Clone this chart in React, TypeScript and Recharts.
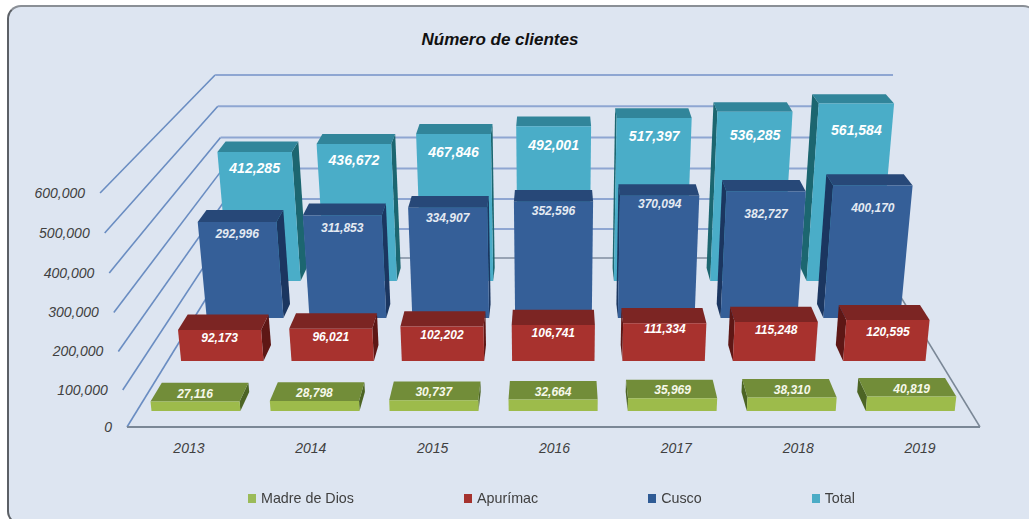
import { BarChart, Bar, XAxis, YAxis, CartesianGrid, Legend } from 'recharts'

// ── Data ─────────────────────────────────────────────────────────────────────
const years = ['2013', '2014', '2015', '2016', '2017', '2018', '2019']
const madreDeDios = [27116, 28798, 30737, 32664, 35969, 38310, 40819]
const apurimac = [92173, 96021, 102202, 106741, 111334, 115248, 120595]
const cusco = [292996, 311853, 334907, 352596, 370094, 382727, 400170]
const total = [412285, 436672, 467846, 492001, 517397, 536285, 561584]
const yTicks = [0, 100000, 200000, 300000, 400000, 500000, 600000]
const legendOrder = ['Madre de Dios', 'Apurímac', 'Cusco', 'Total']

const rows = years.map((year, i) => ({
  year,
  madreDeDios: madreDeDios[i],
  apurimac: apurimac[i],
  cusco: cusco[i],
  total: total[i],
}))

// ── Flat plot area, Recharts scales work in this plane ───────────────────────
const W = 1029
const H = 519
const PLOT_L = 127
const PLOT_R = 980
const PLOT_T = 193
const PLOT_B = 427
const FONT = '"Liberation Sans", Arial, sans-serif'

// the labels in the original are not placed evenly, small per-year corrections
const totalNudge: Record<string, number> = { '2015': 2, '2016': 3, '2017': 2, '2018': 7, '2019': 11 }
const cuscoNudge: Record<string, number> = { '2015': -2, '2016': -3, '2017': -4, '2018': 10, '2019': 10 }
const apurimacNudge: Record<string, number> = { '2017': -2, '2019': 4 }
const noNudge: Record<string, number> = {}

// ── Flat plane -> fake 3D floor/wall. t = 0 front of the floor, t = 1 back wall
function project(px: number, py: number, t: number) {
  const u = (px - PLOT_L) / (PLOT_R - PLOT_L)
  const v = Math.max(0, (PLOT_B - py) / (PLOT_B - PLOT_T))
  const h = (PLOT_B - PLOT_T) * Math.pow(v, 1.03) * (1 - 0.218 * t)
  const left = 127 + 104 * t
  const right = 980 - 103 * t
  const x0 = left + u * (right - left)
  return { x: 553 + (x0 - 553) * (1 + 0.00027 * h), y: 427 - 169 * t - h }
}

type P = { x: number; y: number }
const pts = (list: P[]) => list.map((p) => `${p.x.toFixed(1)},${p.y.toFixed(1)}`).join(' ')

// ── Bars ─────────────────────────────────────────────────────────────────────
function box3d(s: {
  key: 'madreDeDios' | 'apurimac' | 'cusco' | 'total'
  t: number
  depth: number
  front: string
  top: string
  side: string
  labelDy: number
  labelSize: number
  labelColor: string
  nudge: Record<string, number>
}) {
  return function Box(props: any) {
    const { x, y, width, height, payload } = props
    const bottom = y + height
    const t0 = s.t
    const t1 = s.t + s.depth
    const fbl = project(x, bottom, t0)
    const fbr = project(x + width, bottom, t0)
    const ftl = project(x, y, t0)
    const ftr = project(x + width, y, t0)
    const bbl = project(x, bottom, t1)
    const bbr = project(x + width, bottom, t1)
    const btl = project(x, y, t1)
    const btr = project(x + width, y, t1)
    const value: number = payload[s.key]
    return (
      <g>
        {btl.x < ftl.x && <polygon points={pts([ftl, btl, bbl, fbl])} fill={s.side} />}
        {btr.x > ftr.x && <polygon points={pts([ftr, btr, bbr, fbr])} fill={s.side} />}
        <polygon points={pts([ftl, btl, btr, ftr])} fill={s.top} />
        <polygon points={pts([ftl, ftr, fbr, fbl])} fill={s.front} />
        <text
          x={(ftl.x + ftr.x) / 2}
          y={ftl.y + s.labelDy + (s.nudge[payload.year] ?? 0)}
          textAnchor="middle"
          dominantBaseline="middle"
          fontFamily={FONT}
          fontStyle="italic"
          fontWeight={700}
          fontSize={s.labelSize}
          fill={s.labelColor}
        >
          {value.toLocaleString('en-US')}
        </text>
      </g>
    )
  }
}

const TotalBox = box3d({
  key: 'total', t: 0.864, depth: 0.077,
  front: '#4aadc8', top: '#31859a', side: '#1c6670',
  labelDy: 17, labelSize: 14, labelColor: '#ffffff', nudge: totalNudge,
})
const CuscoBox = box3d({
  key: 'cusco', t: 0.645, depth: 0.083,
  front: '#355f98', top: '#274878', side: '#1b3660',
  labelDy: 13, labelSize: 12, labelColor: '#e4eaf2', nudge: cuscoNudge,
})
const ApurimacBox = box3d({
  key: 'apurimac', t: 0.39, depth: 0.095,
  front: '#a8322e', top: '#7c2523', side: '#5e1715',
  labelDy: 9, labelSize: 12, labelColor: '#ffffff', nudge: apurimacNudge,
})
const MadreBox = box3d({
  key: 'madreDeDios', t: 0.095, depth: 0.112,
  front: '#9dbb4b', top: '#728d39', side: '#4c6424',
  labelDy: -7, labelSize: 12, labelColor: '#f6f8ea', nudge: noNudge,
})

// ── Wall lines: the gridline goes along the left wall, then along the back ───
function WallLine(props: any) {
  const { y1 } = props
  const a = project(PLOT_L, y1, 0)
  const b = project(PLOT_L, y1, 1)
  const c = project(PLOT_R, y1, 1)
  const isFloor = Math.abs(y1 - PLOT_B) < 1
  const e = project(PLOT_R, y1, 0)
  return (
    <g key={`wall-${y1}`}>
      <line x1={a.x} y1={a.y} x2={b.x} y2={b.y} stroke="#6a8dc2" strokeWidth={1.6} />
      <line x1={b.x} y1={b.y} x2={c.x} y2={c.y} stroke={isFloor ? '#97a3b4' : '#8ea6d2'} strokeWidth={2} />
      {isFloor && (
        <>
          <line x1={a.x} y1={a.y} x2={e.x} y2={e.y} stroke="#7a8796" strokeWidth={1.8} />
          <line x1={e.x} y1={e.y} x2={c.x} y2={c.y} stroke="#7a8796" strokeWidth={1.5} />
        </>
      )}
    </g>
  )
}

// ── Axis ticks ───────────────────────────────────────────────────────────────
function YTick(props: any) {
  const { y, payload } = props
  const p = project(PLOT_L, y, 0)
  return (
    <text
      x={p.x - 15}
      y={p.y + 1}
      textAnchor="end"
      dominantBaseline="middle"
      fontFamily={FONT}
      fontStyle="italic"
      fontSize={14}
      fill="#404040"
    >
      {payload.value.toLocaleString('en-US')}
    </text>
  )
}

function XTick(props: any) {
  const { x, payload } = props
  return (
    <text
      x={x + 1}
      y={449}
      textAnchor="middle"
      dominantBaseline="middle"
      fontFamily={FONT}
      fontStyle="italic"
      fontSize={14}
      fill="#404040"
    >
      {payload.value}
    </text>
  )
}

// ── Legend, in the original reading order ────────────────────────────────────
function ChartLegend({ payload }: any) {
  const items = legendOrder
    .map((name) => (payload ?? []).find((p: any) => p.value === name))
    .filter(Boolean)
  return (
    <div style={{ display: 'flex', gap: 110, paddingLeft: 248, fontFamily: FONT, fontSize: 14.3, color: '#404040' }}>
      {items.map((item: any) => (
        <div key={item.value} style={{ display: 'flex', alignItems: 'center', gap: 5 }}>
          <span style={{ width: 8, height: 9, background: item.color, display: 'inline-block' }} />
          <span>{item.value}</span>
        </div>
      ))}
    </div>
  )
}

export default function App() {
  return (
    <div style={{ position: 'absolute', left: 0, top: 0, width: W, height: H, overflow: 'hidden', background: '#fff' }}>
      <div style={{ position: 'absolute', left: 0, top: 0, width: W, height: H, filter: 'blur(0.5px)' }}>
        <div
          style={{
            position: 'absolute',
            left: 7,
            top: 5,
            width: 1030,
            height: 520,
            boxSizing: 'border-box',
            background: '#dde5f1',
            borderRadius: 14,
            borderTop: '2px solid #8a8f96',
            borderLeft: '2px solid #5c6066',
            borderBottom: '2px solid #5c6066',
          }}
        />
        <div
          style={{
            position: 'absolute',
            left: 0,
            top: 30,
            width: 1000,
            textAlign: 'center',
            fontFamily: FONT,
            fontStyle: 'italic',
            fontWeight: 700,
            fontSize: 17,
            lineHeight: '20px',
            color: '#111',
          }}
        >
          Número de clientes
        </div>
        <BarChart
          width={W}
          height={H}
          data={rows}
          margin={{ top: PLOT_T, right: W - PLOT_R, bottom: H - PLOT_B - 30, left: 0 }}
          barSize={91}
          barGap={-91}
          style={{ position: 'absolute', left: 0, top: 0 }}
        >
          <CartesianGrid vertical={false} horizontal={WallLine} stroke="none" />
          <XAxis dataKey="year" height={30} axisLine={false} tickLine={false} interval={0} tick={XTick} />
          <YAxis
            width={PLOT_L}
            domain={[0, 600000]}
            ticks={yTicks}
            axisLine={false}
            tickLine={false}
            interval={0}
            tick={YTick}
          />
          <Legend
            verticalAlign="middle"
            content={ChartLegend}
            wrapperStyle={{ top: 490, left: 0, width: W, height: 20 }}
          />
          <Bar dataKey="total" name="Total" fill="#4bacc6" shape={TotalBox} isAnimationActive={false} />
          <Bar dataKey="cusco" name="Cusco" fill="#2f5b95" shape={CuscoBox} isAnimationActive={false} />
          <Bar dataKey="apurimac" name="Apurímac" fill="#a5322e" shape={ApurimacBox} isAnimationActive={false} />
          <Bar dataKey="madreDeDios" name="Madre de Dios" fill="#9bbb59" shape={MadreBox} isAnimationActive={false} />
        </BarChart>
      </div>
    </div>
  )
}
